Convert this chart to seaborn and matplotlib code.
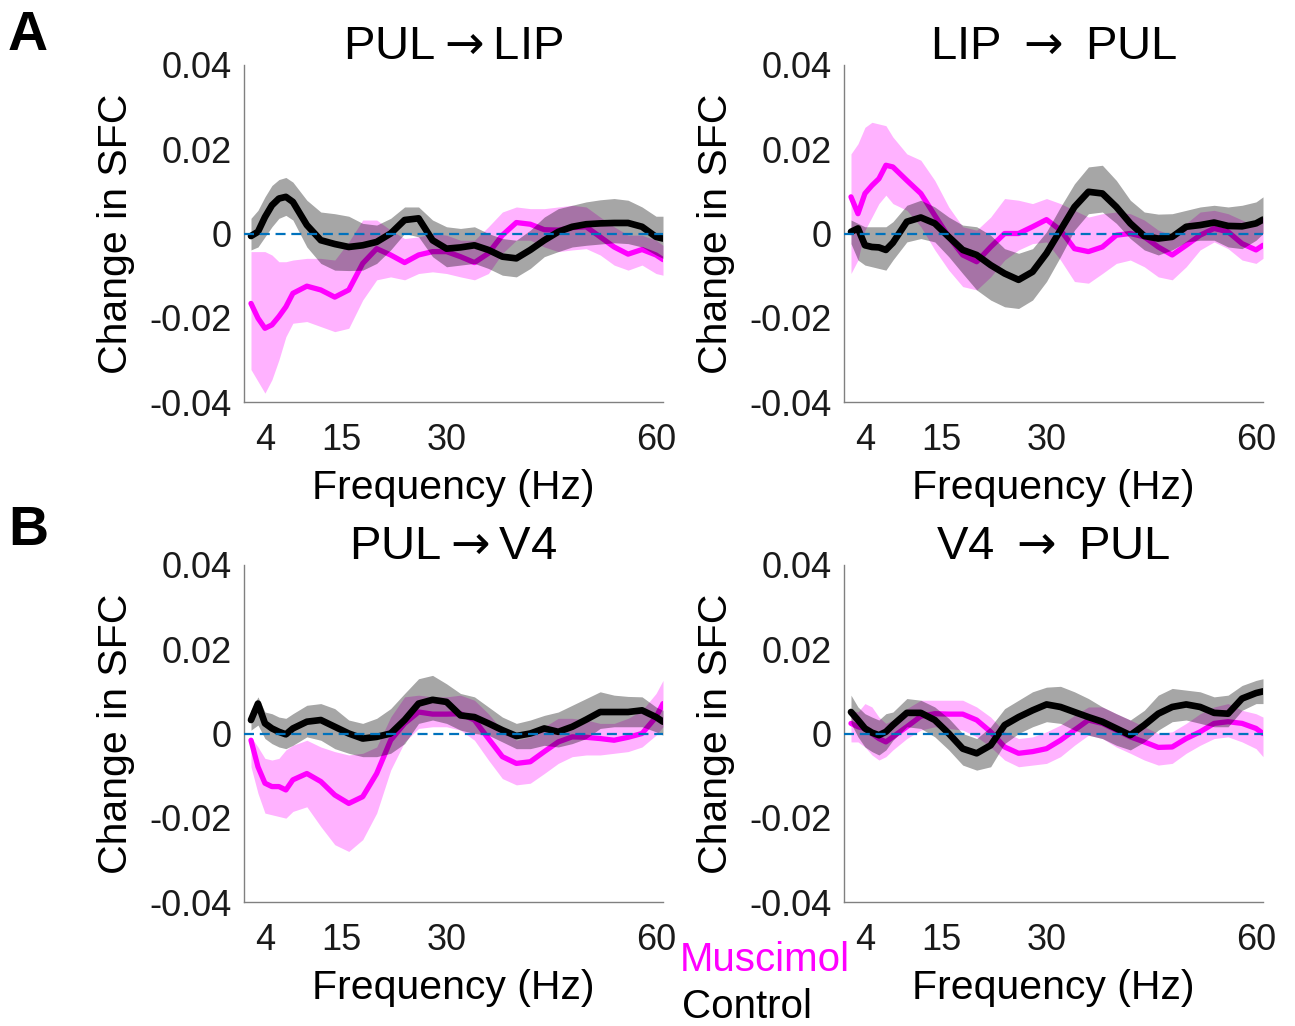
import numpy as np
import pandas as pd
import matplotlib
matplotlib.use("Agg")
import matplotlib.pyplot as plt
import seaborn as sns

# ---------------- data (values in units of 1e-3 "Change in SFC") ----------------
FREQ = [2, 3, 4, 5, 6, 7, 8, 10, 12, 14, 16, 18, 20, 22, 24, 26, 28, 30, 32, 34,
        36, 38, 40, 42, 44, 46, 48, 50, 52, 54, 56, 58, 60, 61]

TITLES = ["PUL$\\rightarrow$LIP", "LIP $\\rightarrow$ PUL", "PUL$\\rightarrow$V4", "V4 $\\rightarrow$ PUL"]
PANEL_LETTERS = ["A", "B"]
LEGEND_LABELS = ["Muscimol", "Control"]
X_TICKS = [4, 7, 15, 30, 60]
X_TICKLABELS = ["4", "", "15", "30", "60"]
Y_TICKS = [-0.04, -0.02, 0, 0.02, 0.04]
Y_TICKLABELS = ["-0.04", "-0.02", "0", "0.02", "0.04"]

# Panel A left: PUL -> LIP
a1_ctrl_mean = [-0.6, 0.4, 3.9, 6.7, 8.3, 8.7, 7.5, 2.0, -1.6, -2.5, -3.2, -2.8, -2.0, 0.0, 3.2, 3.6, -1.6,
                -3.6, -3.3, -2.8, -3.9, -5.5, -5.9, -3.9, -1.6, 0.4, 1.6, 2.2, 2.4, 2.5, 2.5, 1.6, -0.8, -1.2]
a1_ctrl_hi = [3.6, 5.5, 8.7, 11.4, 12.8, 13.3, 12.2, 7.9, 5.1, 4.7, 4.1, 2.4, 2.0, 3.6, 6.3, 6.3, 3.2,
              1.6, 1.2, 1.6, 0.0, -1.2, -1.6, 0.8, 3.9, 5.9, 6.7, 7.5, 8.0, 8.3, 7.9, 6.3, 4.1, 4.1]
a1_ctrl_lo = [-3.9, -3.2, -0.8, 1.6, 3.6, 4.3, 3.2, -3.2, -7.1, -8.7, -8.8, -8.7, -7.1, -3.9, 0.0, -0.8, -5.5,
              -7.9, -7.5, -7.1, -8.3, -9.9, -10.3, -8.3, -5.5, -4.3, -3.2, -2.8, -2.5, -2.2, -2.4, -3.2, -5.1, -5.9]
a1_musc_mean = [-16.6, -20.1, -22.5, -21.7, -19.7, -17.4, -14.2, -12.5, -13.4, -15.1, -13.4, -7.1, -3.6, -5.1,
                -6.9, -5.1, -4.3, -4.3, -5.5, -6.9, -4.7, -0.4, 2.6, 2.2, 0.9, 0.8, 1.4, 1.6, -0.8, -3.2,
                -4.9, -3.8, -5.1, -6.2]
a1_musc_hi = [-4.3, -4.3, -4.3, -5.1, -6.7, -6.7, -6.3, -5.9, -5.9, -6.3, -2.0, 3.2, 3.2, 0.8, -1.2, -0.8, 0.0,
              -0.4, -1.6, -1.6, 1.6, 5.1, 6.3, 5.9, 5.9, 6.3, 6.7, 6.3, 3.9, 1.6, -0.4, -0.4, -1.6, -2.8]
a1_musc_lo = [-32.3, -35.1, -37.9, -34.7, -30.0, -24.5, -21.3, -20.9, -22.1, -23.3, -22.5, -15.8, -11.0, -10.3,
              -11.0, -9.5, -9.1, -9.5, -10.3, -11.0, -9.5, -4.7, -1.6, -1.6, -3.2, -4.3, -3.9, -3.6, -5.1, -7.5,
              -8.7, -7.5, -9.5, -9.9]

# Panel A right: LIP -> PUL
a2_ctrl_mean = [0.4, 1.2, -2.8, -3.2, -3.3, -3.9, -2.2, 2.8, 3.8, 2.4, -0.8, -3.9, -5.1, -7.5, -9.5, -11.0,
                -9.1, -4.7, 0.8, 6.3, 9.9, 9.5, 6.3, 2.4, -0.6, -1.2, -0.8, 1.6, 2.0, 2.6, 1.8, 1.7, 2.4, 3.3]
a2_ctrl_hi = [3.2, 2.4, 1.6, 1.6, 1.6, 1.6, 2.8, 6.7, 7.9, 6.3, 3.9, 2.0, 1.6, -0.4, -3.6, -4.7, -3.6, 0.4,
              6.3, 11.8, 15.8, 16.2, 12.6, 7.9, 5.1, 4.6, 4.7, 5.5, 6.3, 6.7, 6.3, 6.7, 7.5, 8.7]
a2_ctrl_lo = [-2.4, -6.3, -7.5, -7.9, -8.3, -8.7, -6.3, -2.0, -1.2, -2.0, -5.5, -9.5, -13.4, -15.8, -17.4,
              -17.8, -15.8, -11.4, -5.5, 0.8, 4.7, 5.1, 2.4, -1.2, -3.9, -5.1, -3.9, -2.0, -1.6, -1.6, -3.2,
              -3.6, -1.6, 0.0]
a2_musc_mean = [8.7, 4.7, 9.5, 11.4, 13.0, 16.2, 15.8, 12.6, 9.5, 4.3, -0.8, -5.1, -6.7, -3.2, 0.0, 0.0, 1.6,
                3.3, 0.8, -3.6, -4.3, -3.2, -0.4, 0.0, -0.8, -3.2, -5.1, -2.8, -0.4, 1.2, 0.4, -2.4, -3.9, -2.8]
a2_musc_hi = [18.9, 21.3, 25.2, 26.4, 26.0, 25.6, 22.9, 18.9, 17.4, 12.6, 6.3, 1.6, 0.8, 3.9, 8.3, 7.9, 7.1,
              8.3, 7.1, 5.5, 3.9, 4.7, 5.1, 4.7, 3.2, 0.8, -0.4, 2.4, 5.1, 5.5, 4.7, 3.2, 1.6, 3.9]
a2_musc_lo = [-9.5, -6.3, 0.8, 3.9, 7.1, 9.1, 7.1, 5.5, 1.6, -3.9, -8.7, -12.6, -13.4, -10.3, -6.3, -3.9,
              -2.4, -2.0, -6.3, -11.4, -11.8, -9.5, -7.1, -6.3, -7.9, -10.3, -11.0, -7.9, -3.9, -2.0, -3.6,
              -6.3, -7.1, -5.9]

# Panel B left: PUL -> V4
b1_ctrl_mean = [3.2, 7.1, 2.4, 1.2, 0.4, -0.2, 1.2, 2.8, 3.2, 1.6, 0.0, -1.2, -0.8, 0.0, 3.2, 7.1, 8.0, 7.5,
                4.3, 3.9, 2.4, 0.8, -0.6, 0.0, 1.2, 0.4, 1.6, 3.3, 5.1, 5.1, 5.1, 5.5, 3.9, 2.8]
b1_ctrl_hi = [5.5, 8.7, 5.1, 4.7, 3.9, 3.6, 4.7, 6.7, 7.1, 5.9, 3.2, 2.4, 3.6, 5.9, 9.5, 13.0, 13.8, 11.8,
              9.5, 8.7, 6.3, 3.9, 2.4, 3.2, 4.3, 5.1, 6.7, 8.3, 9.9, 9.1, 8.8, 8.7, 6.3, 5.5]
b1_ctrl_lo = [0.8, 2.0, -1.2, -2.4, -3.2, -3.6, -2.8, -0.8, -1.6, -3.6, -4.7, -5.5, -5.5, -4.7, -2.4, 2.4,
              3.2, 2.4, 0.8, 0.0, -0.4, -2.0, -3.6, -3.6, -2.8, -3.2, -2.4, -1.2, 1.2, 1.6, 1.6, 1.6, 0.4, -0.4]
b1_musc_mean = [-1.6, -7.9, -11.8, -12.6, -12.6, -13.4, -11.0, -9.5, -11.4, -14.6, -16.6, -15.0, -9.5, -1.6,
                2.4, 5.1, 4.6, 4.6, 4.7, 3.2, -1.2, -5.5, -7.1, -6.7, -4.3, -2.0, -0.8, -0.9, -1.2, -1.6,
                -0.9, 0.0, 3.9, 7.1]
b1_musc_hi = [-0.8, -3.2, -5.9, -6.3, -5.9, -3.9, -2.8, -1.6, -3.2, -4.3, -5.1, -4.7, -3.2, 3.9, 8.7, 9.1,
              8.7, 8.7, 9.1, 7.9, 4.7, 0.8, -1.6, -0.8, 1.6, 3.6, 3.6, 3.2, 2.4, 2.4, 3.6, 5.5, 9.5, 12.6]
b1_musc_lo = [-7.9, -14.2, -18.9, -19.3, -19.7, -20.1, -18.5, -17.4, -22.1, -26.4, -28.0, -25.2, -18.9, -8.7,
              -2.0, 1.2, 1.6, 1.6, 0.8, -1.6, -6.3, -10.7, -12.2, -11.8, -9.5, -7.1, -5.5, -5.1, -5.1, -4.7,
              -4.3, -3.2, -0.4, 1.6]

# Panel B right: V4 -> PUL
b2_ctrl_mean = [5.1, 3.2, 1.2, 0.2, -0.4, 0.4, 2.0, 4.9, 4.9, 3.2, 0.0, -3.6, -4.7, -2.8, 2.0, 3.9, 5.5, 6.9,
                6.3, 5.1, 3.9, 2.8, 1.2, -0.4, 2.0, 4.7, 6.3, 6.9, 6.3, 4.9, 4.7, 8.3, 9.6, 10.0]
b2_ctrl_hi = [9.1, 6.3, 4.7, 3.9, 3.2, 4.7, 5.1, 8.3, 7.9, 6.3, 3.6, 0.0, -1.2, 1.6, 5.9, 7.9, 9.9, 11.0,
              11.2, 9.9, 8.3, 6.3, 4.7, 3.2, 5.5, 9.1, 10.7, 10.3, 9.9, 8.7, 9.1, 11.4, 12.6, 13.0]
b2_ctrl_lo = [2.4, -0.8, -3.2, -4.3, -5.1, -3.9, -1.6, 1.6, 1.2, -0.8, -3.9, -7.5, -8.7, -7.9, -2.4, 0.0,
              1.6, 2.8, 2.4, 0.8, -0.4, -1.2, -2.8, -3.9, -2.0, 0.8, 2.8, 3.2, 2.4, 1.6, 1.6, 5.5, 7.1, 7.1]
b2_musc_mean = [2.4, 1.6, 1.2, 0.0, -1.2, -2.0, -0.8, 1.6, 4.1, 4.7, 4.6, 4.6, 3.2, 0.4, -3.2, -4.7, -4.3,
                -3.6, -1.6, 0.8, 3.2, 2.4, 0.8, -0.8, -2.0, -3.3, -3.2, -1.2, 0.4, 2.4, 2.8, 2.4, 1.2, 0.0]
b2_musc_hi = [5.5, 5.1, 7.1, 6.3, 3.9, 2.4, 3.2, 5.9, 7.9, 7.9, 7.9, 7.9, 6.3, 3.9, 0.4, -1.2, -0.8, 0.4,
              2.0, 4.3, 6.3, 6.3, 4.7, 3.2, 1.6, 0.0, 0.4, 2.4, 4.7, 6.3, 7.1, 5.5, 4.7, 3.9]
b2_musc_lo = [-2.0, -2.0, -3.2, -5.1, -6.3, -5.5, -3.9, -1.2, 0.8, 1.6, 1.2, 0.8, -0.8, -3.2, -6.3, -7.9,
              -7.5, -7.1, -5.5, -2.8, -0.4, -1.2, -3.2, -4.7, -6.3, -7.5, -7.1, -4.7, -2.8, -1.2, -0.8, -2.0,
              -3.6, -5.5]

PANELS = [
    (a1_ctrl_mean, a1_ctrl_lo, a1_ctrl_hi, a1_musc_mean, a1_musc_lo, a1_musc_hi),
    (a2_ctrl_mean, a2_ctrl_lo, a2_ctrl_hi, a2_musc_mean, a2_musc_lo, a2_musc_hi),
    (b1_ctrl_mean, b1_ctrl_lo, b1_ctrl_hi, b1_musc_mean, b1_musc_lo, b1_musc_hi),
    (b2_ctrl_mean, b2_ctrl_lo, b2_ctrl_hi, b2_musc_mean, b2_musc_lo, b2_musc_hi),
]
UNIT = 1e-3

# ---------------- style ----------------
sns.set_theme(style="white")
plt.rcParams["font.family"] = ["Liberation Sans", "DejaVu Sans"]
plt.rcParams["axes.unicode_minus"] = False
plt.rcParams["mathtext.fontset"] = "dejavusans"

MAGENTA = "#FF00FF"
BLACK = "#000000"
SPINE = "#808080"
ZERO_BLUE = "#0072BD"

W, H = 1295, 1026
fig = plt.figure(figsize=(W / 100, H / 100), dpi=100)

ax_w, ax_h = 419 / W, 337 / H
lefts = [244 / W, 844 / W]
bottoms = [1 - 402 / H, 1 - 902 / H]

for i, (title, data) in enumerate(zip(TITLES, PANELS)):
    r, c = divmod(i, 2)
    ax = fig.add_axes([lefts[c], bottoms[r], ax_w, ax_h])
    c_mean, c_lo, c_hi, m_mean, m_lo, m_hi = [np.array(v) * UNIT for v in data]
    df = pd.DataFrame({"freq": FREQ, "ctrl": c_mean, "musc": m_mean})

    ax.fill_between(FREQ, m_lo, m_hi, color=MAGENTA, alpha=0.30, lw=0, zorder=1)
    sns.lineplot(data=df, x="freq", y="musc", ax=ax, color=MAGENTA, lw=3.8, zorder=2)
    ax.fill_between(FREQ, c_lo, c_hi, color=BLACK, alpha=0.35, lw=0, zorder=3)
    sns.lineplot(data=df, x="freq", y="ctrl", ax=ax, color=BLACK, lw=4.8, zorder=4)
    ax.axhline(0, color=ZERO_BLUE, lw=1.6, ls=(0, (4.5, 2.6)), zorder=5)

    ax.set_xlim(1, 61)
    ax.set_ylim(-0.04, 0.04)
    ax.set_xticks(X_TICKS)
    ax.set_xticklabels(X_TICKLABELS)
    ax.set_yticks(Y_TICKS)
    ax.set_yticklabels(Y_TICKLABELS)
    ax.tick_params(axis="both", direction="in", length=4, width=1, color=SPINE,
                   labelsize=26, labelcolor="#1a1a1a")
    ax.tick_params(axis="x", pad=15)
    ax.tick_params(axis="y", pad=9)
    for s in ["top", "right"]:
        ax.spines[s].set_visible(False)
    for s in ["left", "bottom"]:
        ax.spines[s].set_color(SPINE)
        ax.spines[s].set_linewidth(1.0)
    ax.set_xlabel("Frequency (Hz)", fontsize=29.5, color="black", labelpad=8)
    ax.set_ylabel("Change in SFC", fontsize=29.5, color="black", labelpad=10)
    ax.set_title(title, fontsize=34, color="black", pad=4)
    ax.set_facecolor("white")

fig.text(8 / W, 1 - 50 / H, PANEL_LETTERS[0], fontsize=40, fontweight="bold", color="black",
         ha="left", va="baseline")
fig.text(8 / W, 1 - 545 / H, PANEL_LETTERS[1], fontsize=40, fontweight="bold", color="black",
         ha="left", va="baseline")
fig.text(680 / W, 1 - 960 / H, LEGEND_LABELS[0], fontsize=29, color=MAGENTA, ha="left", va="center")
fig.text(682 / W, 1 - 1007 / H, LEGEND_LABELS[1], fontsize=29, color="black", ha="left", va="center")

fig.savefig("out.png", dpi=100, facecolor="white")
